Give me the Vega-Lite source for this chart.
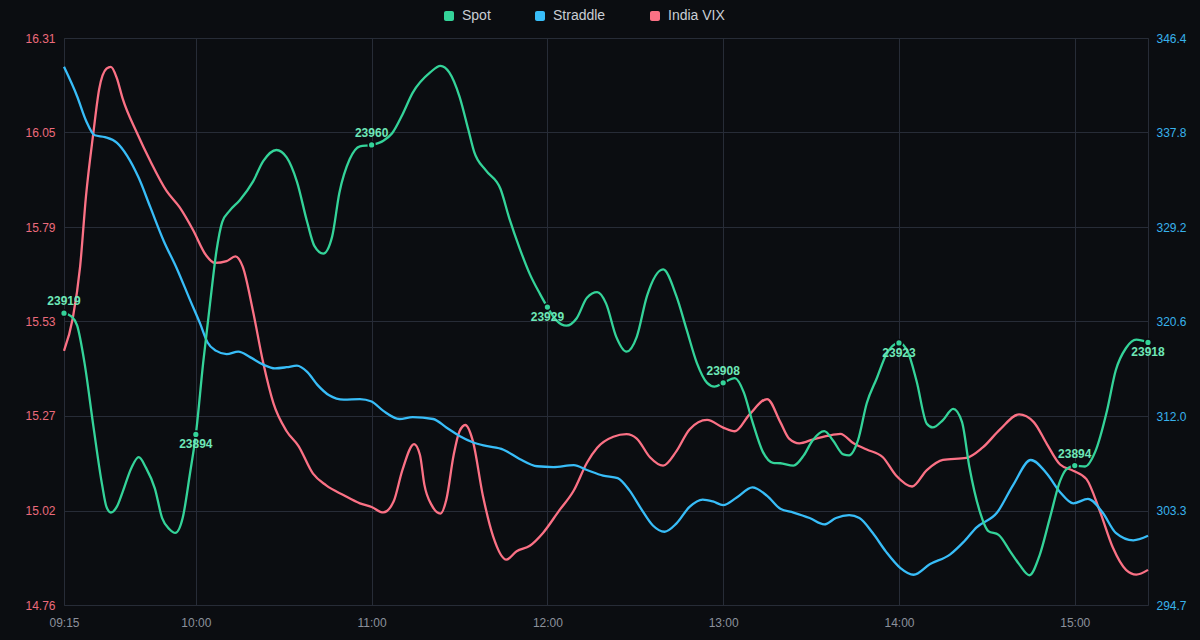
{
  "$schema": "https://vega.github.io/schema/vega-lite/v6.json",
  "width": 1084,
  "height": 567,
  "autosize": {"type": "none"},
  "padding": {"left": 64, "top": 38, "right": 52, "bottom": 35},
  "background": "#0b0d11",
  "config": {
    "view": {"stroke": "#272c37", "strokeWidth": 1},
    "font": "Liberation Sans",
    "axis": {"domain": false, "ticks": false, "gridColor": "#272c37", "gridWidth": 1, "labelFont": "Liberation Sans", "labelFontSize": 12},
    "legend": {
      "orient": "none", "legendX": 378, "legendY": -29, "direction": "horizontal", "padding": 0,
      "symbolType": "M-0.6,-1H0.6A0.4,0.4 0 0 1 1,-0.6V0.6A0.4,0.4 0 0 1 0.6,1H-0.6A0.4,0.4 0 0 1 -1,0.6V-0.6A0.4,0.4 0 0 1 -0.6,-1Z",
      "symbolSize": 100, "symbolStrokeWidth": 0, "labelFontSize": 14, "labelColor": "#c9cdd4",
      "labelFont": "Liberation Sans", "columnPadding": 42, "labelOffset": 6
    }
  },
  "datasets": {
    "vix": [
      {"t": "2025-01-06T09:15:00", "v": 15.455}, {"t": "2025-01-06T09:18:00", "v": 15.544}, {"t": "2025-01-06T09:20:30", "v": 15.685},
      {"t": "2025-01-06T09:22:30", "v": 15.877}, {"t": "2025-01-06T09:25:00", "v": 16.049}, {"t": "2025-01-06T09:27:00", "v": 16.170},
      {"t": "2025-01-06T09:29:30", "v": 16.226}, {"t": "2025-01-06T09:31:00", "v": 16.231}, {"t": "2025-01-06T09:33:00", "v": 16.201},
      {"t": "2025-01-06T09:35:00", "v": 16.145}, {"t": "2025-01-06T09:40:00", "v": 16.049}, {"t": "2025-01-06T09:44:30", "v": 15.973},
      {"t": "2025-01-06T09:50:00", "v": 15.892}, {"t": "2025-01-06T09:54:30", "v": 15.847}, {"t": "2025-01-06T09:59:00", "v": 15.786},
      {"t": "2025-01-06T10:03:30", "v": 15.716}, {"t": "2025-01-06T10:06:30", "v": 15.695}, {"t": "2025-01-06T10:10:30", "v": 15.700},
      {"t": "2025-01-06T10:13:30", "v": 15.713}, {"t": "2025-01-06T10:16:00", "v": 15.685}, {"t": "2025-01-06T10:19:30", "v": 15.564},
      {"t": "2025-01-06T10:23:00", "v": 15.422}, {"t": "2025-01-06T10:26:30", "v": 15.311}, {"t": "2025-01-06T10:31:00", "v": 15.235},
      {"t": "2025-01-06T10:35:00", "v": 15.195}, {"t": "2025-01-06T10:40:00", "v": 15.119}, {"t": "2025-01-06T10:44:30", "v": 15.087},
      {"t": "2025-01-06T10:50:30", "v": 15.060}, {"t": "2025-01-06T10:56:00", "v": 15.038}, {"t": "2025-01-06T11:00:00", "v": 15.028},
      {"t": "2025-01-06T11:04:00", "v": 15.013}, {"t": "2025-01-06T11:07:30", "v": 15.043}, {"t": "2025-01-06T11:10:30", "v": 15.129},
      {"t": "2025-01-06T11:14:30", "v": 15.200}, {"t": "2025-01-06T11:16:30", "v": 15.170}, {"t": "2025-01-06T11:18:00", "v": 15.089},
      {"t": "2025-01-06T11:20:30", "v": 15.033}, {"t": "2025-01-06T11:23:30", "v": 15.010}, {"t": "2025-01-06T11:25:30", "v": 15.048},
      {"t": "2025-01-06T11:28:00", "v": 15.170}, {"t": "2025-01-06T11:30:00", "v": 15.235}, {"t": "2025-01-06T11:32:00", "v": 15.252},
      {"t": "2025-01-06T11:34:30", "v": 15.210}, {"t": "2025-01-06T11:38:00", "v": 15.058}, {"t": "2025-01-06T11:41:30", "v": 14.947},
      {"t": "2025-01-06T11:46:00", "v": 14.884}, {"t": "2025-01-06T11:49:30", "v": 14.907}, {"t": "2025-01-06T11:54:00", "v": 14.922},
      {"t": "2025-01-06T11:58:30", "v": 14.957}, {"t": "2025-01-06T12:04:00", "v": 15.018}, {"t": "2025-01-06T12:09:00", "v": 15.073},
      {"t": "2025-01-06T12:13:30", "v": 15.149}, {"t": "2025-01-06T12:17:00", "v": 15.190}, {"t": "2025-01-06T12:22:30", "v": 15.220},
      {"t": "2025-01-06T12:27:00", "v": 15.227}, {"t": "2025-01-06T12:30:30", "v": 15.215}, {"t": "2025-01-06T12:35:00", "v": 15.164},
      {"t": "2025-01-06T12:39:30", "v": 15.141}, {"t": "2025-01-06T12:44:00", "v": 15.180}, {"t": "2025-01-06T12:48:30", "v": 15.240},
      {"t": "2025-01-06T12:54:30", "v": 15.266}, {"t": "2025-01-06T13:00:00", "v": 15.245}, {"t": "2025-01-06T13:04:00", "v": 15.235},
      {"t": "2025-01-06T13:09:00", "v": 15.281}, {"t": "2025-01-06T13:15:00", "v": 15.323}, {"t": "2025-01-06T13:19:30", "v": 15.260},
      {"t": "2025-01-06T13:22:30", "v": 15.215}, {"t": "2025-01-06T13:26:00", "v": 15.202}, {"t": "2025-01-06T13:30:30", "v": 15.212},
      {"t": "2025-01-06T13:35:30", "v": 15.222}, {"t": "2025-01-06T13:40:00", "v": 15.228}, {"t": "2025-01-06T13:44:30", "v": 15.202},
      {"t": "2025-01-06T13:49:00", "v": 15.185}, {"t": "2025-01-06T13:54:30", "v": 15.164}, {"t": "2025-01-06T13:59:00", "v": 15.114},
      {"t": "2025-01-06T14:04:30", "v": 15.084}, {"t": "2025-01-06T14:09:30", "v": 15.129}, {"t": "2025-01-06T14:15:00", "v": 15.157},
      {"t": "2025-01-06T14:23:00", "v": 15.162}, {"t": "2025-01-06T14:28:30", "v": 15.190}, {"t": "2025-01-06T14:34:30", "v": 15.240},
      {"t": "2025-01-06T14:41:00", "v": 15.281}, {"t": "2025-01-06T14:46:00", "v": 15.260}, {"t": "2025-01-06T14:50:30", "v": 15.200},
      {"t": "2025-01-06T14:55:00", "v": 15.144}, {"t": "2025-01-06T14:59:30", "v": 15.127}, {"t": "2025-01-06T15:04:00", "v": 15.104},
      {"t": "2025-01-06T15:08:30", "v": 15.018}, {"t": "2025-01-06T15:13:00", "v": 14.917}, {"t": "2025-01-06T15:17:30", "v": 14.856},
      {"t": "2025-01-06T15:21:00", "v": 14.843}, {"t": "2025-01-06T15:25:00", "v": 14.856}
    ],
    "straddle": [
      {"t": "2025-01-06T09:15:00", "s": 343.77}, {"t": "2025-01-06T09:19:30", "s": 341.07}, {"t": "2025-01-06T09:22:30", "s": 338.88},
      {"t": "2025-01-06T09:25:30", "s": 337.53}, {"t": "2025-01-06T09:29:00", "s": 337.36}, {"t": "2025-01-06T09:33:00", "s": 336.86},
      {"t": "2025-01-06T09:36:30", "s": 335.68}, {"t": "2025-01-06T09:40:30", "s": 333.65}, {"t": "2025-01-06T09:44:30", "s": 330.95},
      {"t": "2025-01-06T09:49:00", "s": 327.92}, {"t": "2025-01-06T09:53:30", "s": 325.39}, {"t": "2025-01-06T09:58:00", "s": 322.52},
      {"t": "2025-01-06T10:01:30", "s": 320.33}, {"t": "2025-01-06T10:04:00", "s": 318.64}, {"t": "2025-01-06T10:07:00", "s": 317.87},
      {"t": "2025-01-06T10:10:30", "s": 317.57}, {"t": "2025-01-06T10:14:30", "s": 317.80}, {"t": "2025-01-06T10:18:30", "s": 317.30},
      {"t": "2025-01-06T10:23:00", "s": 316.62}, {"t": "2025-01-06T10:27:00", "s": 316.28}, {"t": "2025-01-06T10:31:00", "s": 316.38},
      {"t": "2025-01-06T10:34:30", "s": 316.52}, {"t": "2025-01-06T10:38:00", "s": 315.95}, {"t": "2025-01-06T10:41:30", "s": 314.77},
      {"t": "2025-01-06T10:45:30", "s": 313.82}, {"t": "2025-01-06T10:50:30", "s": 313.42}, {"t": "2025-01-06T10:56:00", "s": 313.48},
      {"t": "2025-01-06T11:00:00", "s": 313.25}, {"t": "2025-01-06T11:04:00", "s": 312.40}, {"t": "2025-01-06T11:09:30", "s": 311.66},
      {"t": "2025-01-06T11:14:00", "s": 311.83}, {"t": "2025-01-06T11:21:00", "s": 311.66}, {"t": "2025-01-06T11:25:30", "s": 310.89},
      {"t": "2025-01-06T11:30:00", "s": 310.11}, {"t": "2025-01-06T11:34:30", "s": 309.54}, {"t": "2025-01-06T11:39:00", "s": 309.20},
      {"t": "2025-01-06T11:45:00", "s": 308.86}, {"t": "2025-01-06T11:50:30", "s": 308.02}, {"t": "2025-01-06T11:56:30", "s": 307.35},
      {"t": "2025-01-06T12:02:00", "s": 307.28}, {"t": "2025-01-06T12:09:00", "s": 307.45}, {"t": "2025-01-06T12:13:30", "s": 307.01},
      {"t": "2025-01-06T12:19:00", "s": 306.50}, {"t": "2025-01-06T12:24:00", "s": 306.27}, {"t": "2025-01-06T12:28:00", "s": 305.15},
      {"t": "2025-01-06T12:32:00", "s": 303.47}, {"t": "2025-01-06T12:36:00", "s": 301.95}, {"t": "2025-01-06T12:40:00", "s": 301.38},
      {"t": "2025-01-06T12:44:00", "s": 302.12}, {"t": "2025-01-06T12:48:30", "s": 303.64}, {"t": "2025-01-06T12:53:00", "s": 304.31},
      {"t": "2025-01-06T12:56:30", "s": 304.14}, {"t": "2025-01-06T13:00:00", "s": 303.81}, {"t": "2025-01-06T13:04:30", "s": 304.48},
      {"t": "2025-01-06T13:10:00", "s": 305.42}, {"t": "2025-01-06T13:15:00", "s": 304.65}, {"t": "2025-01-06T13:19:30", "s": 303.47},
      {"t": "2025-01-06T13:24:00", "s": 303.13}, {"t": "2025-01-06T13:29:30", "s": 302.63}, {"t": "2025-01-06T13:34:30", "s": 302.05},
      {"t": "2025-01-06T13:38:30", "s": 302.63}, {"t": "2025-01-06T13:43:00", "s": 302.89}, {"t": "2025-01-06T13:46:30", "s": 302.63},
      {"t": "2025-01-06T13:51:00", "s": 301.28}, {"t": "2025-01-06T13:55:30", "s": 299.59}, {"t": "2025-01-06T14:00:30", "s": 298.07},
      {"t": "2025-01-06T14:05:00", "s": 297.46}, {"t": "2025-01-06T14:10:30", "s": 298.41}, {"t": "2025-01-06T14:17:30", "s": 299.32},
      {"t": "2025-01-06T14:22:00", "s": 300.43}, {"t": "2025-01-06T14:26:30", "s": 301.78}, {"t": "2025-01-06T14:33:30", "s": 303.13},
      {"t": "2025-01-06T14:39:00", "s": 305.66}, {"t": "2025-01-06T14:45:00", "s": 307.92}, {"t": "2025-01-06T14:50:30", "s": 306.67},
      {"t": "2025-01-06T14:55:00", "s": 304.99}, {"t": "2025-01-06T14:59:30", "s": 303.97}, {"t": "2025-01-06T15:04:30", "s": 304.38},
      {"t": "2025-01-06T15:09:30", "s": 303.13}, {"t": "2025-01-06T15:14:00", "s": 301.28}, {"t": "2025-01-06T15:20:00", "s": 300.60},
      {"t": "2025-01-06T15:25:00", "s": 301.01}
    ],
    "spot": [
      {"t": "2025-01-06T09:15:00", "p": 23924.2, "label": "23919"}, {"t": "2025-01-06T09:17:30", "p": 23923.5}, {"t": "2025-01-06T09:19:30", "p": 23921.5},
      {"t": "2025-01-06T09:22:00", "p": 23913.5}, {"t": "2025-01-06T09:25:00", "p": 23900.0}, {"t": "2025-01-06T09:28:00", "p": 23887.3},
      {"t": "2025-01-06T09:29:30", "p": 23882.5}, {"t": "2025-01-06T09:31:00", "p": 23881.3}, {"t": "2025-01-06T09:33:00", "p": 23882.5},
      {"t": "2025-01-06T09:35:00", "p": 23885.7}, {"t": "2025-01-06T09:38:00", "p": 23890.9}, {"t": "2025-01-06T09:40:30", "p": 23893.2},
      {"t": "2025-01-06T09:43:00", "p": 23890.9}, {"t": "2025-01-06T09:46:00", "p": 23886.5}, {"t": "2025-01-06T09:48:30", "p": 23880.1},
      {"t": "2025-01-06T09:51:00", "p": 23877.7}, {"t": "2025-01-06T09:53:00", "p": 23876.9}, {"t": "2025-01-06T09:55:30", "p": 23880.1},
      {"t": "2025-01-06T09:58:00", "p": 23889.7}, {"t": "2025-01-06T10:00:00", "p": 23898.1, "label": "23894"}, {"t": "2025-01-06T10:02:30", "p": 23913.5},
      {"t": "2025-01-06T10:05:00", "p": 23927.1}, {"t": "2025-01-06T10:07:00", "p": 23937.4}, {"t": "2025-01-06T10:09:00", "p": 23943.8},
      {"t": "2025-01-06T10:11:30", "p": 23946.2}, {"t": "2025-01-06T10:15:00", "p": 23948.5}, {"t": "2025-01-06T10:19:30", "p": 23952.5},
      {"t": "2025-01-06T10:23:00", "p": 23956.9}, {"t": "2025-01-06T10:27:30", "p": 23959.3}, {"t": "2025-01-06T10:31:00", "p": 23957.7},
      {"t": "2025-01-06T10:34:30", "p": 23952.5}, {"t": "2025-01-06T10:38:00", "p": 23943.8}, {"t": "2025-01-06T10:40:30", "p": 23938.6},
      {"t": "2025-01-06T10:43:30", "p": 23937.0}, {"t": "2025-01-06T10:46:30", "p": 23940.6}, {"t": "2025-01-06T10:49:00", "p": 23950.1},
      {"t": "2025-01-06T10:52:30", "p": 23957.3}, {"t": "2025-01-06T10:56:00", "p": 23960.1}, {"t": "2025-01-06T11:00:00", "p": 23960.4, "label": "23960"},
      {"t": "2025-01-06T11:04:00", "p": 23961.3}, {"t": "2025-01-06T11:07:00", "p": 23962.9}, {"t": "2025-01-06T11:10:30", "p": 23966.9},
      {"t": "2025-01-06T11:14:00", "p": 23971.6}, {"t": "2025-01-06T11:20:00", "p": 23976.0}, {"t": "2025-01-06T11:23:30", "p": 23977.4},
      {"t": "2025-01-06T11:26:30", "p": 23976.0}, {"t": "2025-01-06T11:30:00", "p": 23970.8}, {"t": "2025-01-06T11:33:00", "p": 23963.7},
      {"t": "2025-01-06T11:35:00", "p": 23958.9}, {"t": "2025-01-06T11:39:00", "p": 23954.9}, {"t": "2025-01-06T11:44:00", "p": 23950.9},
      {"t": "2025-01-06T11:47:00", "p": 23944.6}, {"t": "2025-01-06T11:50:30", "p": 23938.2}, {"t": "2025-01-06T11:54:00", "p": 23932.6},
      {"t": "2025-01-06T11:57:30", "p": 23928.3}, {"t": "2025-01-06T12:00:00", "p": 23925.5, "label": "23929"}, {"t": "2025-01-06T12:03:00", "p": 23922.7},
      {"t": "2025-01-06T12:06:30", "p": 23921.5}, {"t": "2025-01-06T12:10:00", "p": 23923.1}, {"t": "2025-01-06T12:13:30", "p": 23927.5},
      {"t": "2025-01-06T12:17:00", "p": 23928.7}, {"t": "2025-01-06T12:20:00", "p": 23926.3}, {"t": "2025-01-06T12:23:30", "p": 23919.1},
      {"t": "2025-01-06T12:27:00", "p": 23915.9}, {"t": "2025-01-06T12:30:30", "p": 23919.1}, {"t": "2025-01-06T12:34:00", "p": 23927.9},
      {"t": "2025-01-06T12:39:30", "p": 23933.6}, {"t": "2025-01-06T12:44:00", "p": 23927.9}, {"t": "2025-01-06T12:47:30", "p": 23920.7},
      {"t": "2025-01-06T12:51:00", "p": 23913.5}, {"t": "2025-01-06T12:54:30", "p": 23909.2}, {"t": "2025-01-06T12:57:00", "p": 23908.4},
      {"t": "2025-01-06T13:00:00", "p": 23909.2, "label": "23908"}, {"t": "2025-01-06T13:04:00", "p": 23910.2}, {"t": "2025-01-06T13:07:00", "p": 23907.2},
      {"t": "2025-01-06T13:10:00", "p": 23900.8}, {"t": "2025-01-06T13:13:30", "p": 23894.4}, {"t": "2025-01-06T13:17:00", "p": 23892.0},
      {"t": "2025-01-06T13:19:30", "p": 23891.9}, {"t": "2025-01-06T13:24:00", "p": 23891.4}, {"t": "2025-01-06T13:27:30", "p": 23893.6},
      {"t": "2025-01-06T13:30:30", "p": 23896.8}, {"t": "2025-01-06T13:34:30", "p": 23898.8}, {"t": "2025-01-06T13:37:30", "p": 23896.8},
      {"t": "2025-01-06T13:41:00", "p": 23893.8}, {"t": "2025-01-06T13:43:00", "p": 23893.6}, {"t": "2025-01-06T13:46:00", "p": 23896.8},
      {"t": "2025-01-06T13:49:00", "p": 23904.8}, {"t": "2025-01-06T13:52:30", "p": 23910.3}, {"t": "2025-01-06T13:55:30", "p": 23915.1},
      {"t": "2025-01-06T14:00:00", "p": 23917.8, "label": "23923"}, {"t": "2025-01-06T14:03:00", "p": 23915.9}, {"t": "2025-01-06T14:06:00", "p": 23909.6},
      {"t": "2025-01-06T14:09:30", "p": 23900.4}, {"t": "2025-01-06T14:11:30", "p": 23899.6}, {"t": "2025-01-06T14:15:00", "p": 23901.2},
      {"t": "2025-01-06T14:18:30", "p": 23903.6}, {"t": "2025-01-06T14:21:30", "p": 23900.8}, {"t": "2025-01-06T14:24:00", "p": 23891.2},
      {"t": "2025-01-06T14:27:30", "p": 23881.7}, {"t": "2025-01-06T14:30:30", "p": 23877.3}, {"t": "2025-01-06T14:34:00", "p": 23876.5},
      {"t": "2025-01-06T14:38:00", "p": 23872.9}, {"t": "2025-01-06T14:41:00", "p": 23870.2}, {"t": "2025-01-06T14:44:30", "p": 23867.8},
      {"t": "2025-01-06T14:48:00", "p": 23872.1}, {"t": "2025-01-06T14:51:30", "p": 23880.1}, {"t": "2025-01-06T14:55:00", "p": 23888.1},
      {"t": "2025-01-06T14:57:00", "p": 23890.5}, {"t": "2025-01-06T15:00:00", "p": 23891.4, "label": "23894"}, {"t": "2025-01-06T15:03:30", "p": 23891.2},
      {"t": "2025-01-06T15:07:00", "p": 23894.4}, {"t": "2025-01-06T15:11:00", "p": 23903.2}, {"t": "2025-01-06T15:14:00", "p": 23911.9},
      {"t": "2025-01-06T15:17:30", "p": 23916.7}, {"t": "2025-01-06T15:21:00", "p": 23918.5}, {"t": "2025-01-06T15:25:00", "p": 23917.9, "label": "23918"}
    ]
  },
  "encoding": {
    "x": {
      "field": "t", "type": "temporal",
      "scale": {"domain": [{"year": 2025, "month": 1, "date": 6, "hours": 9, "minutes": 15}, {"year": 2025, "month": 1, "date": 6, "hours": 15, "minutes": 25}], "nice": false},
      "axis": {
        "title": null, "format": "%H:%M", "labelColor": "#8b919c", "labelPadding": 12, "grid": true, "labelFlush": false,
        "values": [
          {"year": 2025, "month": 1, "date": 6, "hours": 9, "minutes": 15},
          {"year": 2025, "month": 1, "date": 6, "hours": 10, "minutes": 0},
          {"year": 2025, "month": 1, "date": 6, "hours": 11, "minutes": 0},
          {"year": 2025, "month": 1, "date": 6, "hours": 12, "minutes": 0},
          {"year": 2025, "month": 1, "date": 6, "hours": 13, "minutes": 0},
          {"year": 2025, "month": 1, "date": 6, "hours": 14, "minutes": 0},
          {"year": 2025, "month": 1, "date": 6, "hours": 15, "minutes": 0}
        ]
      }
    }
  },
  "layer": [
    {
      "data": {"name": "vix"},
      "mark": {"type": "line", "interpolate": "monotone", "strokeWidth": 2.3},
      "encoding": {
        "y": {
          "field": "v", "type": "quantitative",
          "scale": {"domain": [14.76, 16.31], "nice": false, "zero": false},
          "axis": {
            "orient": "left", "title": null, "grid": true, "labelColor": "#ec6b7c", "labelPadding": 9,
            "values": [14.76, 15.018333, 15.276667, 15.535, 15.793333, 16.051667, 16.31],
            "labelExpr": "['14.76','15.02','15.27','15.53','15.79','16.05','16.31'][round((datum.value-14.76)/0.2583333)]"
          }
        },
        "color": {
          "datum": "India VIX", "type": "nominal",
          "scale": {"domain": ["Spot", "Straddle", "India VIX"], "range": ["#34d399", "#38bdf8", "#fb7185"]},
          "legend": {"title": null, "encode": {"symbols": {"update": {"fill": {"scale": "color", "field": "value"}, "strokeWidth": {"value": 0}, "opacity": {"value": 1}}}}}
        }
      }
    },
    {
      "data": {"name": "straddle"},
      "mark": {"type": "line", "interpolate": "monotone", "strokeWidth": 2.3},
      "encoding": {
        "y": {
          "field": "s", "type": "quantitative",
          "scale": {"domain": [294.7, 346.4], "nice": false, "zero": false},
          "axis": {
            "orient": "right", "title": null, "grid": false, "labelColor": "#38b2ec", "labelPadding": 8,
            "values": [294.7, 303.316667, 311.933333, 320.55, 329.166667, 337.783333, 346.4],
            "labelExpr": "['294.7','303.3','312.0','320.6','329.2','337.8','346.4'][round((datum.value-294.7)/8.616667)]"
          }
        },
        "color": {"datum": "Straddle", "type": "nominal"}
      }
    },
    {
      "data": {"name": "spot"},
      "encoding": {
        "y": {"field": "p", "type": "quantitative", "scale": {"domain": [23861.4, 23983.4], "nice": false, "zero": false}, "axis": null}
      },
      "layer": [
        {
          "mark": {"type": "line", "interpolate": "monotone", "strokeWidth": 2.3},
          "encoding": {"color": {"datum": "Spot", "type": "nominal"}}
        },
        {
          "transform": [{"filter": "isValid(datum.label)"}],
          "mark": {"type": "point", "filled": true, "fill": "#34d399", "stroke": "#0b0d11", "strokeWidth": 1.5, "size": 45, "opacity": 1}
        },
        {
          "transform": [
            {"filter": "isValid(datum.label)"},
            {"window": [{"op": "row_number", "as": "i"}], "sort": [{"field": "t"}]},
            {"filter": "datum.i % 2 == 1"}
          ],
          "mark": {"type": "text", "align": "center", "baseline": "alphabetic", "dy": -8, "fontSize": 12, "fontWeight": "bold", "color": "#6ee7b7"},
          "encoding": {"text": {"field": "label"}}
        },
        {
          "transform": [
            {"filter": "isValid(datum.label)"},
            {"window": [{"op": "row_number", "as": "i"}], "sort": [{"field": "t"}]},
            {"filter": "datum.i % 2 == 0"}
          ],
          "mark": {"type": "text", "align": "center", "baseline": "alphabetic", "dy": 14, "fontSize": 12, "fontWeight": "bold", "color": "#6ee7b7"},
          "encoding": {"text": {"field": "label"}}
        }
      ]
    }
  ],
  "resolve": {"scale": {"y": "independent"}}
}
